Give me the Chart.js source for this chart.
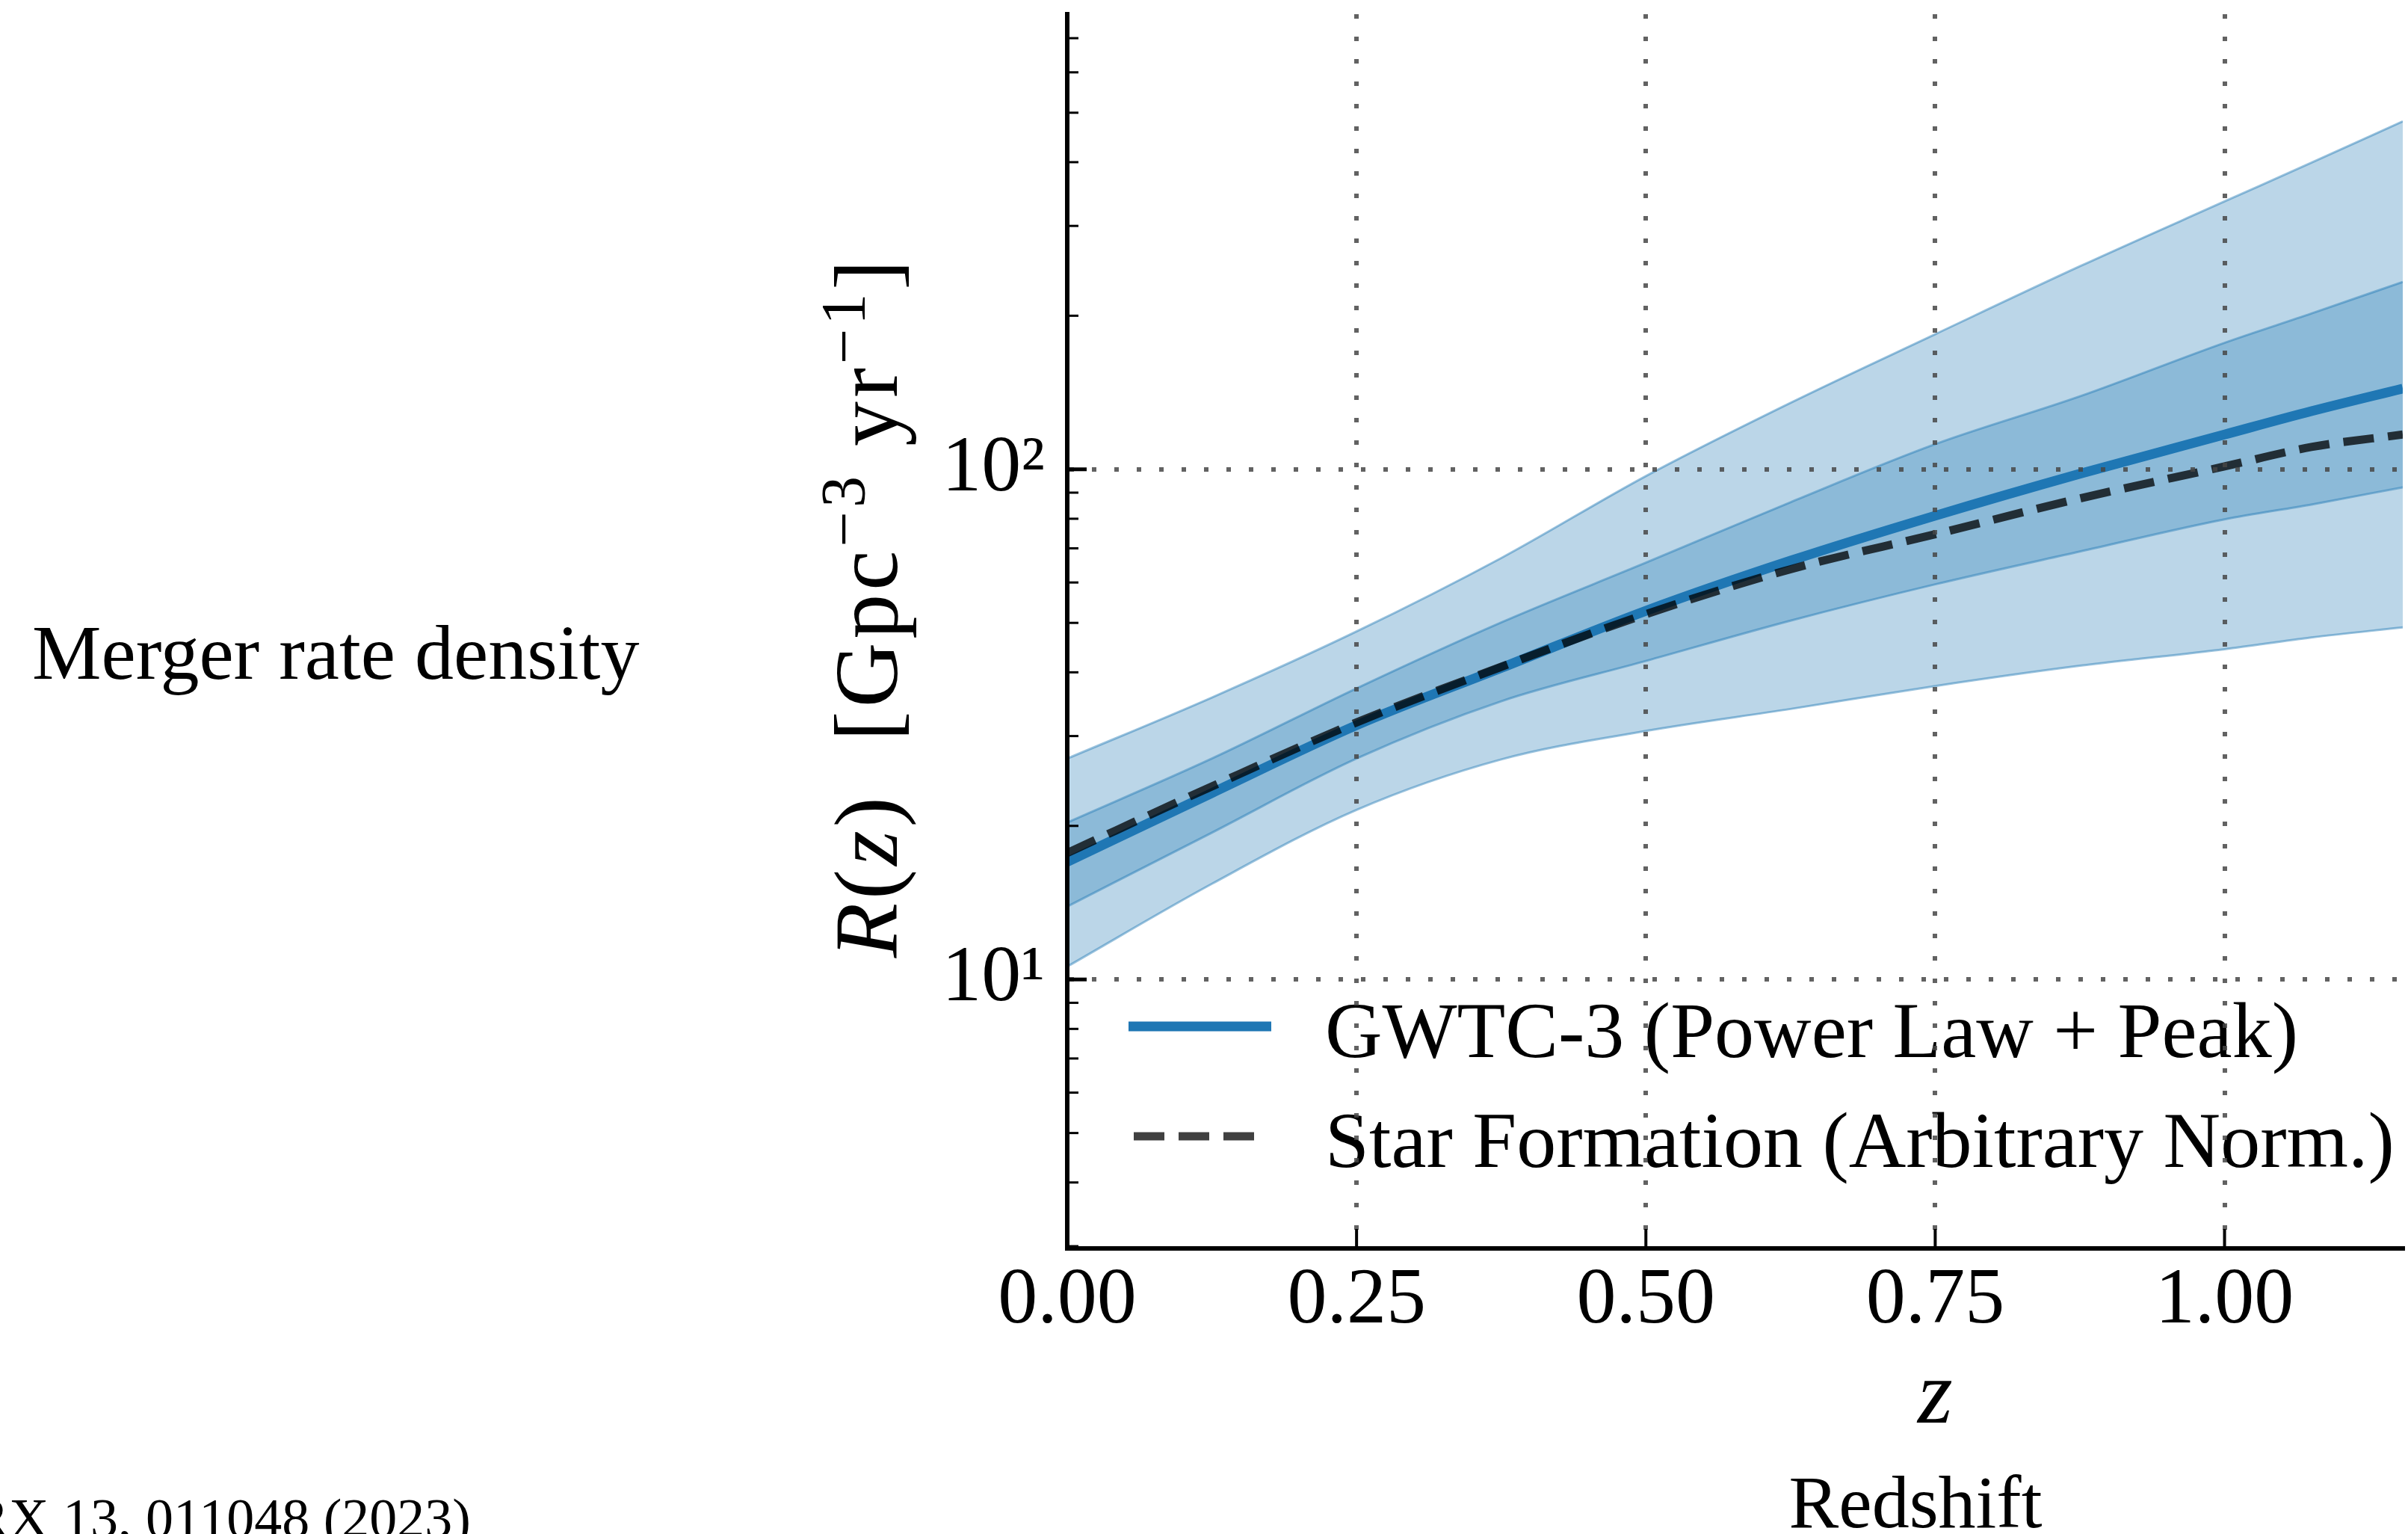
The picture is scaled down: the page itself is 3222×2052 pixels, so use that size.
<!DOCTYPE html>
<html lang="en">
<head>
  <meta charset="UTF-8">
  <title>Merger rate density</title>
  <script src="https://cdn.jsdelivr.net/npm/chart.js"></script>
  <style>
    html, body { margin: 0; padding: 0; background: #fff; overflow: hidden; }
    #wrap { width: 3222px; height: 2052px; }
  </style>
</head>
<body>
  <div id="wrap"><canvas id="rateChart" width="3222" height="2052"></canvas></div>
  <script>
    // redshift samples
    const redshift = [0, 0.125, 0.25, 0.375, 0.5, 0.625, 0.75, 0.875, 1.0, 1.075, 1.154];

    // GWTC-3 (Power Law + Peak) rate, Gpc^-3 yr^-1
    const rateMedian   = [17.0, 23.2, 31.5, 40.8, 52.8, 66.2, 81.1, 98.0, 117, 130, 144];
    const rateInnerLow = [13.9, 19.4, 27.1, 35.1, 42.1, 50.5, 59.5, 69.0, 79.8, 85.3, 92.2];
    const rateInnerHigh = [20.3, 27.1, 37.2, 50.1, 65.6, 86.2, 112, 139, 177, 202, 233];
    const rateOuterLow = [10.6, 15.4, 21.5, 27.0, 30.7, 33.9, 37.6, 41.2, 44.4, 46.8, 49.0];
    const rateOuterHigh = [27.1, 35.7, 48.1, 67.0, 97.0, 135, 184, 250, 335, 399, 481];

    // star formation rate, arbitrary normalisation
    const starFormation = [17.7, 23.9, 31.9, 41.0, 52.0, 63.7, 74.6, 87.7, 101.3, 110.6, 117];

    const xTickValues = [0, 0.25, 0.5, 0.75, 1.0];
    const yTickValues = [3, 4, 5, 6, 7, 8, 9, 10, 20, 30, 40, 50, 60, 70, 80, 90, 100, 200, 300, 400, 500, 600, 700];
    const yTickLabels = { 10: '10¹', 100: '10²' };

    const legendLabels = ['GWTC-3 (Power Law + Peak)', 'Star Formation (Arbitrary Norm.)'];

    const SERIF = '"Liberation Serif", "Times New Roman", serif';
    const BLUE = '#1f77b4';
    const BAND = 'rgba(31, 119, 180, 0.3)';
    const BAND_EDGE = 'rgba(31, 119, 180, 0.45)';
    const GRID = 'rgba(70, 70, 70, 0.85)';

    const pts = arr => redshift.map((z, i) => ({ x: z, y: arr[i] }));

    function bandEdge(data, fill, order) {
      return {
        data: pts(data),
        borderColor: BAND_EDGE,
        borderWidth: 3,
        backgroundColor: BAND,
        fill: fill,
        order: order,
        cubicInterpolationMode: 'monotone'
      };
    }

    // ticks pointing into the plot, like the original
    const inwardTicks = {
      id: 'inwardTicks',
      afterDraw(chart) {
        const { ctx, chartArea, scales } = chart;
        ctx.save();
        ctx.strokeStyle = '#000';
        yTickValues.forEach(v => {
          const y = scales.y.getPixelForValue(v);
          const major = yTickLabels[v] !== undefined;
          ctx.lineWidth = major ? 5 : 3;
          ctx.beginPath();
          ctx.moveTo(chartArea.left, y);
          ctx.lineTo(chartArea.left + (major ? 26 : 15), y);
          ctx.stroke();
        });
        ctx.lineWidth = 4;
        xTickValues.forEach(v => {
          const x = scales.x.getPixelForValue(v);
          ctx.beginPath();
          ctx.moveTo(x, chartArea.bottom);
          ctx.lineTo(x, chartArea.bottom - 26);
          ctx.stroke();
        });
        ctx.restore();
      }
    };

    // legend in the lower left of the axes
    const innerLegend = {
      id: 'innerLegend',
      afterDatasetsDraw(chart) {
        const { ctx, chartArea } = chart;
        const ds = chart.data.datasets;
        const rows = [
          { set: ds[0], x0: chartArea.left + 82, x1: chartArea.left + 273, y: chartArea.bottom - 297 },
          { set: ds[1], x0: chartArea.left + 89, x1: chartArea.left + 253, y: chartArea.bottom - 150 }
        ];
        ctx.save();
        rows.forEach((r, i) => {
          ctx.strokeStyle = r.set.borderColor;
          ctx.lineWidth = r.set.borderWidth;
          ctx.setLineDash(r.set.borderDash || []);
          ctx.beginPath();
          ctx.moveTo(r.x0, r.y);
          ctx.lineTo(r.x1, r.y);
          ctx.stroke();
          ctx.setLineDash([]);
          ctx.fillStyle = '#000';
          ctx.font = '106px ' + SERIF;
          ctx.textBaseline = 'alphabetic';
          ctx.textAlign = 'left';
          ctx.fillText(legendLabels[i], chartArea.left + 345, r.y + 41);
        });
        ctx.restore();
      }
    };

    // axis titles and the surrounding slide text
    const textLayer = {
      id: 'textLayer',
      afterDraw(chart) {
        const { ctx, scales } = chart;
        ctx.save();
        ctx.fillStyle = '#000';
        ctx.textBaseline = 'alphabetic';

        // y title, rotated
        const parts = [
          { t: 'R', f: 'italic 120px ' + SERIF },
          { t: '(', f: '120px ' + SERIF },
          { t: 'z', f: 'italic 120px ' + SERIF },
          { t: ')', f: '120px ' + SERIF },
          { t: '  [Gpc', f: '120px ' + SERIF },
          { t: '−3', f: '84px ' + SERIF, up: 43 },
          { t: ' yr', f: '120px ' + SERIF },
          { t: '−1', f: '84px ' + SERIF, up: 43 },
          { t: ']', f: '120px ' + SERIF }
        ];
        ctx.letterSpacing = '5px';
        let total = 0;
        parts.forEach(p => { ctx.font = p.f; p.w = ctx.measureText(p.t).width; total += p.w; });
        ctx.translate(1200, 812);
        ctx.rotate(-Math.PI / 2);
        let px = -total / 2;
        ctx.textAlign = 'left';
        parts.forEach(p => {
          ctx.font = p.f;
          ctx.fillText(p.t, px, -(p.up || 0));
          px += p.w;
        });
        ctx.setTransform(1, 0, 0, 1, 0, 0);
        ctx.letterSpacing = '0px';

        // x title
        ctx.textAlign = 'center';
        ctx.font = 'italic 120px ' + SERIF;
        ctx.fillText('z', scales.x.getPixelForValue(0.75), 1903);
        ctx.font = '100px ' + SERIF;
        ctx.fillText('Redshift', 2563, 2043);

        ctx.textAlign = 'left';
        ctx.font = '104px ' + SERIF;
        ctx.fillText('Merger rate density', 43, 908);

        ctx.textAlign = 'right';
        ctx.font = '74px ' + SERIF;
        ctx.fillText('PRX 13, 011048 (2023)', 630, 2056);
        ctx.restore();
      }
    };

    const ctx = document.getElementById('rateChart').getContext('2d');
    new Chart(ctx, {
      type: 'line',
      data: {
        datasets: [
          {
            label: legendLabels[0],
            data: pts(rateMedian),
            borderColor: BLUE,
            borderWidth: 13,
            fill: false,
            order: 1,
            cubicInterpolationMode: 'monotone'
          },
          {
            label: legendLabels[1],
            data: pts(starFormation),
            borderColor: 'rgba(0, 0, 0, 0.75)',
            borderWidth: 11,
            borderDash: [41, 19],
            fill: false,
            order: 0,
            cubicInterpolationMode: 'monotone'
          },
          bandEdge(rateOuterLow, false, 3),
          bandEdge(rateOuterHigh, '-1', 3),
          bandEdge(rateInnerLow, false, 2),
          bandEdge(rateInnerHigh, '-1', 2)
        ]
      },
      options: {
        responsive: false,
        animation: false,
        layout: { padding: { top: 19, right: 7, left: 0, bottom: 0 }, autoPadding: false },
        elements: { point: { radius: 0 } },
        plugins: {
          legend: { display: false },
          title: { display: false },
          tooltip: { enabled: false }
        },
        scales: {
          x: {
            type: 'linear',
            min: 0,
            max: 1.154,
            afterBuildTicks: s => { s.ticks = xTickValues.map(v => ({ value: v })); },
            afterFit: s => { s.height = 382; s.paddingLeft = 0; s.paddingRight = 0; s.paddingTop = 0; s.paddingBottom = 0; },
            ticks: {
              callback: v => Number(v).toFixed(2),
              font: { family: SERIF, size: 106 },
              color: '#000',
              padding: 8,
              maxRotation: 0,
              autoSkip: false
            },
            grid: {
              color: c => (c.tick && c.tick.value > 0) ? GRID : 'transparent',
              lineWidth: 6,
              drawTicks: false,
              z: 1
            },
            border: { display: true, color: '#000', width: 6, dash: [6, 24], z: 2 }
          },
          y: {
            type: 'logarithmic',
            min: 2.97,
            max: 780,
            afterBuildTicks: s => { s.ticks = yTickValues.map(v => ({ value: v })); },
            afterFit: s => { s.width = 1428; s.paddingLeft = 0; s.paddingRight = 0; s.paddingTop = 0; s.paddingBottom = 0; },
            ticks: {
              callback: v => yTickLabels[v] !== undefined ? yTickLabels[v] : null,
              font: { family: SERIF, size: 106 },
              color: '#000',
              padding: 30,
              autoSkip: false
            },
            grid: {
              color: c => (c.tick && yTickLabels[c.tick.value] !== undefined) ? GRID : 'transparent',
              lineWidth: 6,
              drawTicks: false,
              z: 1
            },
            border: { display: true, color: '#000', width: 6, dash: [6, 24], z: 2 }
          }
        }
      },
      plugins: [inwardTicks, innerLegend, textLayer]
    });
  </script>
</body>
</html>
